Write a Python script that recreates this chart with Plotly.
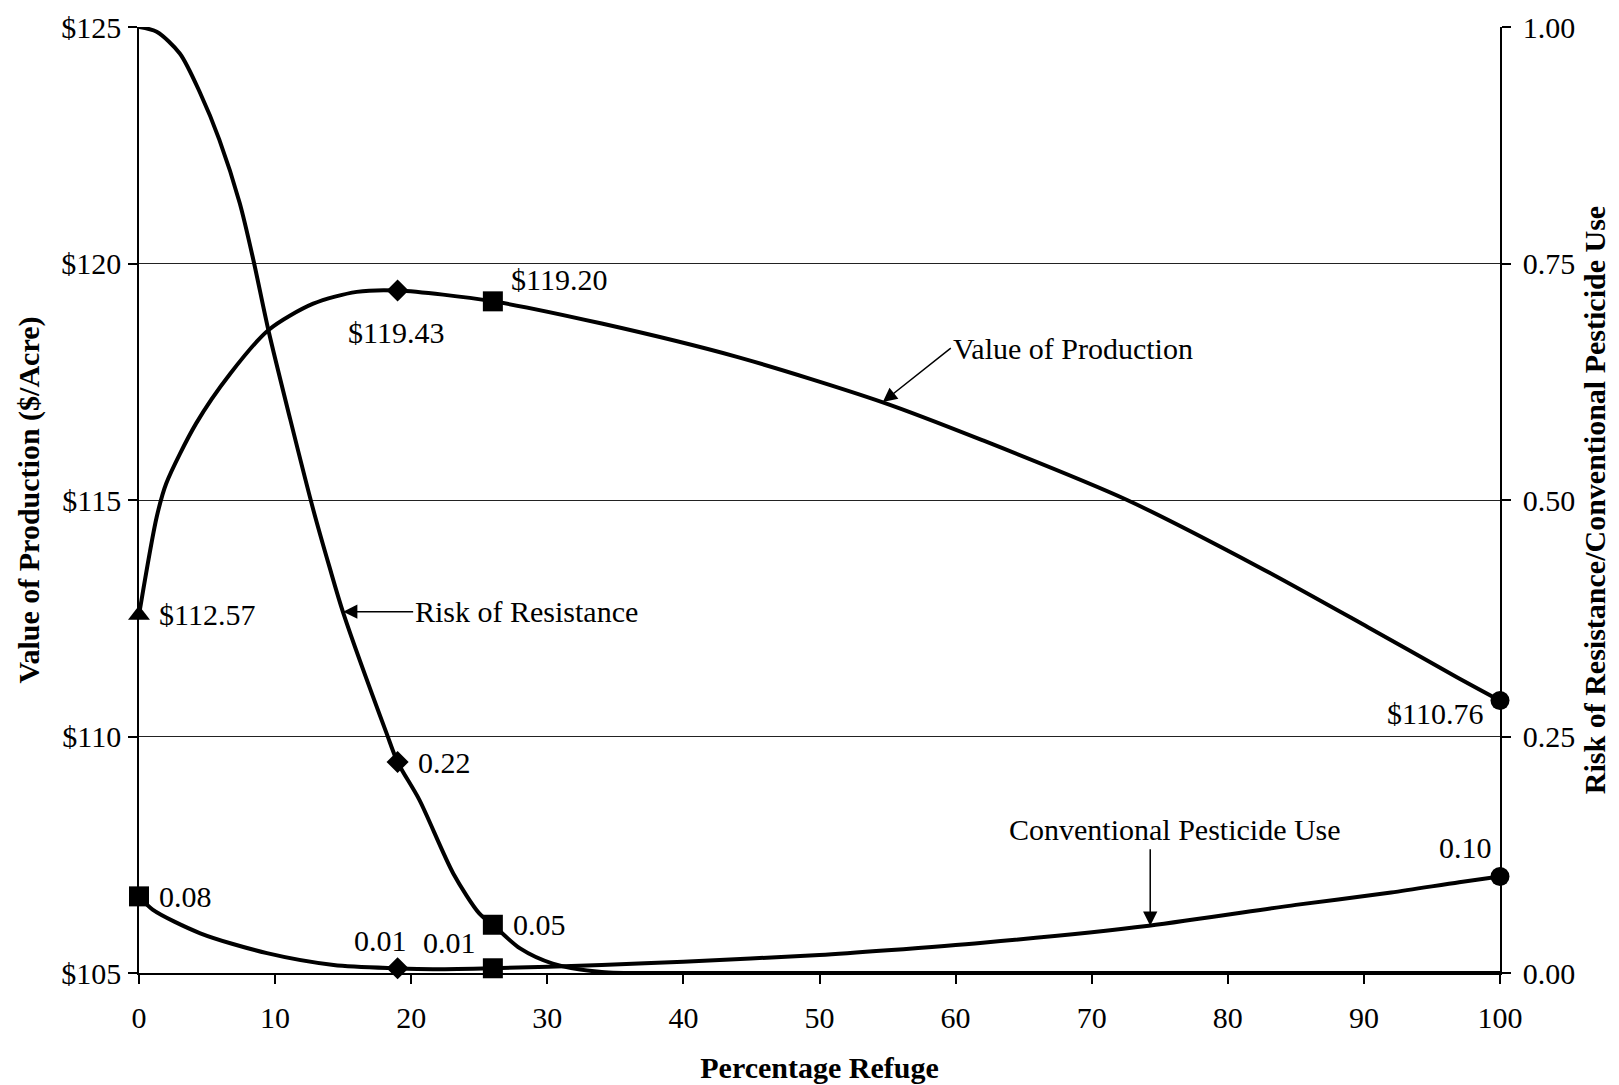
import plotly.graph_objects as go

# ---------------- data ----------------
refuge_value = [0, 1.3, 2, 4.2, 6.7, 9.5, 12.8, 16, 19, 26, 34, 44, 54.6, 62, 72.6, 82.3, 90.3, 96.8, 100]
value_production = [112.57, 114.64, 115.35, 116.62, 117.67, 118.59, 119.15, 119.40, 119.43, 119.20,
                     118.73, 118.02, 117.07, 116.26, 115.0, 113.58, 112.31, 111.26, 110.76]

refuge_risk = [0, 1.3, 3, 4.5, 5.9, 7.4, 8.4, 9.5, 11.1, 12.8, 14.0, 15.0, 18.2, 19, 20.6, 23.1, 25, 26,
               28, 30.4, 34, 40, 60, 80, 100]
risk_resistance = [1.0, 0.995, 0.972, 0.930, 0.881, 0.814, 0.754, 0.68, 0.586, 0.49, 0.429, 0.381, 0.253,
                   0.223, 0.183, 0.105, 0.063, 0.051, 0.026, 0.010, 0.001, 0, 0, 0, 0]

refuge_pest = [0, 1, 4.5, 9.4, 14.3, 19, 21.6, 26, 34, 40, 50, 55, 62, 74.2, 85, 92, 97, 100]
pesticide_use = [0.081, 0.067, 0.042, 0.021, 0.0085, 0.005, 0.004, 0.005, 0.0085, 0.012, 0.019, 0.024,
                 0.032, 0.05, 0.072, 0.085, 0.096, 0.102]

value_mark_x = [0, 19, 26, 100]
value_mark_y = [112.57, 119.43, 119.20, 110.76]
value_mark_sym = ["triangle-up", "diamond", "square", "circle"]
value_mark_lbl = ["$112.57", "$119.43", "$119.20", "$110.76"]

risk_mark_x = [19, 26]
risk_mark_y = [0.223, 0.051]
risk_mark_sym = ["diamond", "square"]
risk_mark_lbl = ["0.22", "0.05"]

pest_mark_x = [0, 19, 26, 100]
pest_mark_y = [0.081, 0.005, 0.005, 0.102]
pest_mark_sym = ["square", "diamond", "square", "circle"]
pest_mark_lbl = ["0.08", "0.01", "0.01", "0.10"]

x_ticks = [0, 10, 20, 30, 40, 50, 60, 70, 80, 90, 100]
left_ticks = [105, 110, 115, 120, 125]
left_tick_text = ["$105", "$110", "$115", "$120", "$125"]
right_ticks = [0, 0.25, 0.5, 0.75, 1.0]
right_tick_text = ["0.00", "0.25", "0.50", "0.75", "1.00"]

# ---------------- style ----------------
FONT = "Liberation Serif"
FS = 30
LW = 4
SIZE = {"triangle-up": 19, "diamond": 17, "square": 20, "circle": 19}

fig = go.Figure()

fig.add_trace(go.Scatter(x=refuge_value, y=value_production, mode="lines",
                         line=dict(color="black", width=LW, shape="spline", smoothing=0.8),
                         yaxis="y", hoverinfo="skip", showlegend=False))
fig.add_trace(go.Scatter(x=refuge_risk, y=risk_resistance, mode="lines",
                         line=dict(color="black", width=LW, shape="spline", smoothing=0.8),
                         yaxis="y2", hoverinfo="skip", showlegend=False))
fig.add_trace(go.Scatter(x=refuge_pest, y=pesticide_use, mode="lines",
                         line=dict(color="black", width=LW, shape="spline", smoothing=0.8),
                         yaxis="y2", hoverinfo="skip", showlegend=False))


def mk(syms):
    return dict(symbol=syms, color="black", opacity=1, size=[SIZE[s] for s in syms],
                line=dict(width=0))


fig.add_trace(go.Scatter(x=value_mark_x, y=value_mark_y, mode="markers", yaxis="y", cliponaxis=False,
                         marker=mk(value_mark_sym), showlegend=False))
fig.add_trace(go.Scatter(x=risk_mark_x, y=risk_mark_y, mode="markers", yaxis="y2", cliponaxis=False,
                         marker=mk(risk_mark_sym), showlegend=False))
fig.add_trace(go.Scatter(x=pest_mark_x, y=pest_mark_y, mode="markers", yaxis="y2", cliponaxis=False,
                         marker=mk(pest_mark_sym), showlegend=False))

tf = dict(family=FONT, size=FS, color="black")
anns = []
# value labels
val_pos = [("left", 18, 0), ("center", -2, -42), ("left", 16, 22), ("right", -15, -13)]
for x, y, t, (xa, xs, ys) in zip(value_mark_x, value_mark_y, value_mark_lbl, val_pos):
    anns.append(dict(x=x, y=y, xref="x", yref="y", text=t, showarrow=False, xanchor=xa,
                     yanchor="middle", xshift=xs, yshift=ys, font=tf))
risk_pos = [("left", 18, 0), ("left", 18, 0)]
for x, y, t, (xa, xs, ys) in zip(risk_mark_x, risk_mark_y, risk_mark_lbl, risk_pos):
    anns.append(dict(x=x, y=y, xref="x", yref="y2", text=t, showarrow=False, xanchor=xa,
                     yanchor="middle", xshift=xs, yshift=ys, font=tf))
pest_pos = [("left", 18, 0), ("center", -17, 28), ("right", -15, 26), ("right", -6, 29)]
for x, y, t, (xa, xs, ys) in zip(pest_mark_x, pest_mark_y, pest_mark_lbl, pest_pos):
    anns.append(dict(x=x, y=y, xref="x", yref="y2", text=t, showarrow=False, xanchor=xa,
                     yanchor="middle", xshift=xs, yshift=ys, font=tf))

# series callouts
anns.append(dict(x=54.65, y=117.07, xref="x", yref="y", text="Value of Production", showarrow=True,
                 ax=68, ay=-54, xanchor="left", yanchor="middle", arrowhead=2, arrowsize=1.9,
                 arrowwidth=1.5, arrowcolor="black", font=tf))
anns.append(dict(x=15.0, y=0.382, xref="x", yref="y2", text="Risk of Resistance", showarrow=True,
                 ax=70, ay=0, xanchor="left", yanchor="middle", arrowhead=2, arrowsize=1.9,
                 arrowwidth=1.5, arrowcolor="black", font=tf))
anns.append(dict(x=74.3, y=0.05, xref="x", yref="y2", text="", showarrow=True,
                 ax=0, ay=-78, arrowhead=2, arrowsize=1.9, arrowwidth=1.5, arrowcolor="black"))
anns.append(dict(x=74.3, y=0.05, xref="x", yref="y2", text="Conventional Pesticide Use", showarrow=False,
                 xanchor="center", yanchor="middle", xshift=25, yshift=96, font=tf))

axis_common = dict(ticks="outside", ticklen=9, tickwidth=1.5, tickcolor="black", showline=True,
                   linecolor="black", linewidth=1.5, zeroline=False, tickfont=tf, automargin=False)

# page body has an 8px default margin: size/margins compensate so the plot sits where the original does
fig.update_layout(
    width=1611, height=1077,
    margin=dict(l=131, r=119, t=19, b=112),
    paper_bgcolor="white", plot_bgcolor="white",
    font=dict(family=FONT, size=FS, color="black"),
    annotations=anns,
    xaxis=dict(range=[0, 100], tickvals=x_ticks, showgrid=False, ticklabelstandoff=8,
               title=dict(text="<b>Percentage Refuge</b>", font=tf, standoff=24), **axis_common),
    yaxis=dict(range=[105, 125], tickvals=left_ticks, ticktext=left_tick_text, ticklabelstandoff=1,
               showgrid=True, gridcolor="#222222", gridwidth=1,
               title=dict(text="<b>Value of Production ($/Acre)</b>", font=tf, standoff=13),
               **axis_common),
    yaxis2=dict(range=[0, 1], tickvals=right_ticks, ticktext=right_tick_text, overlaying="y",
                side="right", showgrid=False, ticklabelstandoff=6,
                title=dict(text="<b>Risk of Resistance/Conventional Pesticide Use</b>", font=tf,
                           standoff=10),
                **axis_common),
)

fig.write_html("out.html")
